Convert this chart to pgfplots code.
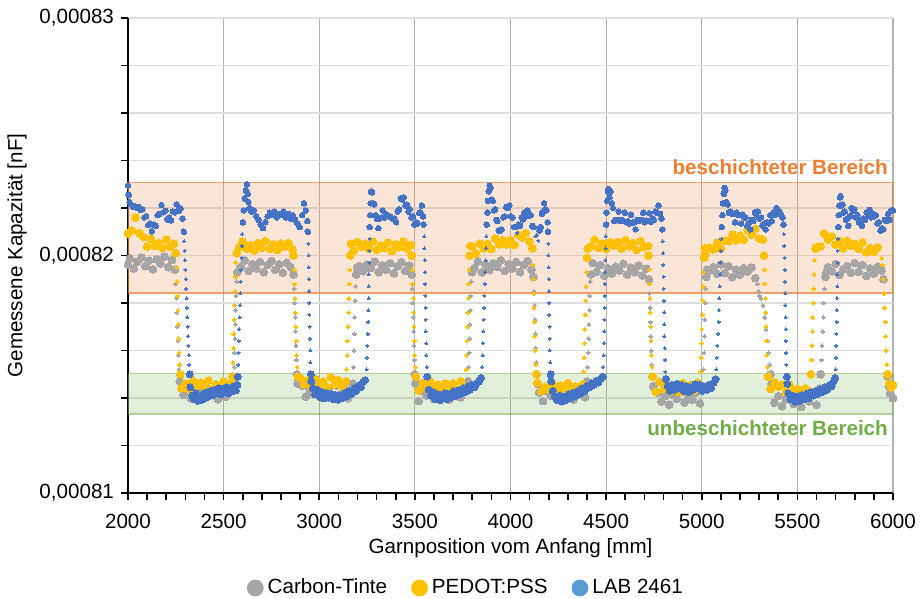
\documentclass[border=0pt]{standalone}
\usepackage{pgfplots}
\pgfplotsset{compat=1.18}
\usepackage{pgfplotstable}
\usepackage{fontspec}
\setmainfont{Liberation Sans}
\newcommand\fsz{\fontsize{10.3}{12.4}\selectfont}

\definecolor{cgray}{RGB}{165,165,165}
\definecolor{cgold}{RGB}{255,192,0}
\definecolor{cblue}{RGB}{68,114,196}
\definecolor{cblueL}{RGB}{91,155,213}
\definecolor{corange}{RGB}{237,125,49}
\definecolor{cgreen}{RGB}{112,173,71}

% values in 1e-6 nF
\pgfplotstableread{
x y
2000 819.62
2010 819.88
2030 819.45
2050 819.75
2070 819.92
2090 819.55
2110 819.78
2130 819.42
2150 819.84
2170 819.66
2190 819.96
2210 819.51
2230 819.81
2245 819.4
2249 818.8
2252 818.2
2255 817.6
2258 817.0
2261 816.4
2264 815.8
2267 815.2
2271 814.7
2290 814.13
2310 814.44
2330 813.98
2350 814.22
2370 814.36
2390 814.08
2410 814.48
2430 814.11
2450 814.40
2470 813.94
2490 814.26
2510 814.04
2530 814.32
2552 814.7
2555 815.3
2557 815.9
2559 816.5
2561 817.1
2563 817.7
2565 818.3
2568 818.9
2572 819.3
2590 819.52
2610 819.80
2630 819.35
2650 819.64
2670 819.45
2690 819.73
2710 819.30
2730 819.60
2750 819.77
2770 819.40
2790 819.63
2810 819.27
2830 819.69
2850 819.51
2866 819.2
2869 818.6
2872 818.0
2874 817.4
2876 816.8
2878 816.2
2880 815.6
2883 815.0
2887 814.6
2910 814.51
2930 814.06
2950 814.36
2970 814.18
2990 814.49
3010 814.03
3030 814.27
3050 814.41
3070 814.13
3090 814.53
3110 814.16
3130 814.45
3150 813.99
3175 814.6
3179 815.3
3182 816.0
3184 816.7
3186 817.4
3188 818.1
3190 818.7
3193 819.2
3197 819.5
3210 819.56
3230 819.34
3250 819.62
3270 819.47
3290 819.75
3310 819.30
3330 819.59
3350 819.40
3370 819.68
3390 819.25
3410 819.55
3430 819.72
3450 819.35
3470 819.58
3484 819.2
3487 818.6
3489 818.0
3491 817.4
3493 816.8
3495 816.2
3497 815.6
3500 815.0
3504 814.6
3520 813.87
3540 814.29
3560 814.11
3580 814.41
3600 813.96
3620 814.26
3640 814.08
3660 814.39
3680 813.93
3700 814.17
3720 814.31
3740 814.03
3760 814.43
3778 814.7
3781 815.3
3784 815.9
3786 816.5
3788 817.1
3790 817.7
3792 818.3
3795 818.9
3799 819.3
3810 819.46
3830 819.75
3850 819.29
3870 819.61
3890 819.39
3910 819.67
3930 819.52
3950 819.80
3970 819.35
3990 819.64
4010 819.45
4030 819.73
4050 819.30
4070 819.60
4090 819.77
4110 819.40
4120 819.1
4123 818.5
4126 817.9
4128 817.3
4130 816.7
4132 816.1
4134 815.5
4137 815.0
4141 814.6
4150 814.23
4170 813.87
4190 814.29
4210 814.11
4230 814.41
4250 813.96
4270 814.26
4290 814.08
4310 814.39
4330 813.93
4350 814.17
4370 814.31
4390 814.03
4400 814.7
4403 815.3
4406 815.9
4408 816.5
4410 817.1
4412 817.7
4414 818.3
4417 818.9
4421 819.2
4430 819.68
4450 819.31
4470 819.60
4490 819.14
4510 819.46
4530 819.24
4550 819.52
4570 819.37
4590 819.65
4610 819.20
4630 819.49
4650 819.30
4670 819.58
4690 819.15
4710 819.45
4724 819.0
4727 818.4
4730 817.8
4732 817.2
4734 816.6
4736 816.0
4739 815.4
4742 814.9
4746 814.5
4770 814.22
4790 813.85
4810 814.08
4830 813.72
4850 814.14
4870 813.96
4890 814.26
4910 813.81
4930 814.11
4950 813.93
4970 814.24
4990 813.78
5006 814.5
5009 815.2
5012 815.9
5014 816.6
5016 817.3
5018 818.0
5020 818.6
5023 819.1
5027 819.4
5040 819.37
5060 819.51
5080 819.23
5100 819.63
5120 819.26
5140 819.55
5160 819.09
5180 819.41
5200 819.19
5220 819.47
5240 819.32
5260 819.50
5280 819.05
5290 818.8
5296 818.5
5302 818.3
5310 818.2
5320 817.9
5330 817.4
5336 816.9
5342 816.4
5348 815.9
5354 815.4
5360 815.0
5366 814.6
5380 813.80
5400 814.08
5420 813.65
5440 813.95
5460 814.12
5480 813.75
5500 813.98
5520 813.62
5540 814.04
5560 813.86
5580 814.16
5600 813.71
5618 814.4
5622 815.0
5626 815.6
5629 816.2
5632 816.8
5635 817.4
5638 818.0
5642 818.6
5647 819.1
5652 819.3
5660 819.51
5680 819.33
5700 819.64
5720 819.18
5740 819.42
5760 819.56
5780 819.28
5800 819.68
5820 819.31
5840 819.60
5860 819.14
5880 819.46
5900 819.24
5920 819.52
5940 819.37
5950 819.0
5953 818.4
5956 817.8
5959 817.2
5962 816.6
5965 816.0
5968 815.4
5972 814.9
5978 814.5
5985 814.2
6000 814.0
}\carbon

\pgfplotstableread{
x y
2000 820.92
2020 821.05
2040 821.60
2060 820.94
2080 820.78
2100 820.38
2120 820.70
2140 820.40
2160 820.53
2180 820.32
2200 820.67
2220 820.37
2240 820.50
2250 820.1
2254 819.5
2257 818.9
2259 818.3
2261 817.7
2263 817.1
2265 816.5
2267 815.9
2270 815.4
2274 815.0
2280 814.41
2300 814.60
2320 814.35
2340 814.72
2360 814.52
2380 814.64
2400 814.43
2420 814.74
2440 814.39
2460 814.57
2480 814.46
2500 814.69
2520 814.34
2540 814.62
2546 814.9
2549 815.5
2551 816.1
2553 816.7
2555 817.3
2557 817.9
2559 818.5
2561 819.1
2564 819.7
2568 820.1
2580 820.35
2600 820.58
2620 820.29
2640 820.44
2660 820.21
2680 820.53
2700 820.33
2720 820.61
2740 820.27
2760 820.46
2780 820.23
2800 820.51
2820 820.38
2840 820.52
2860 820.25
2866 820.0
2869 819.4
2871 818.8
2873 818.2
2875 817.6
2877 817.0
2879 816.4
2881 815.8
2884 815.3
2888 814.9
2900 814.85
2920 814.59
2940 814.73
2960 814.43
2980 814.80
3000 814.55
3020 814.68
3040 814.47
3060 814.87
3080 814.57
3100 814.75
3120 814.51
3140 814.70
3142 815.2
3146 815.8
3149 816.4
3151 817.0
3153 817.6
3155 818.2
3157 818.8
3159 819.4
3162 820.0
3166 820.5
3180 820.20
3200 820.57
3220 820.37
3240 820.49
3260 820.28
3280 820.59
3300 820.24
3320 820.42
3340 820.31
3360 820.54
3380 820.19
3400 820.47
3420 820.35
3440 820.58
3460 820.29
3480 820.44
3484 820.0
3487 819.4
3489 818.8
3491 818.2
3493 817.6
3495 817.0
3497 816.4
3499 815.8
3502 815.3
3506 814.9
3520 814.31
3540 814.63
3560 814.43
3580 814.71
3600 814.37
3620 814.56
3640 814.33
3660 814.61
3680 814.48
3700 814.62
3720 814.35
3740 814.70
3760 814.44
3768 815.2
3771 815.8
3773 816.4
3775 817.0
3777 817.6
3779 818.2
3781 818.8
3783 819.4
3786 820.0
3790 820.4
3800 820.38
3820 820.08
3840 820.50
3860 820.30
3880 820.48
3900 820.27
3920 820.72
3940 820.47
3960 820.65
3980 820.46
4000 820.65
4020 820.45
4040 820.87
4060 820.77
4080 820.94
4100 820.58
4114 820.3
4117 819.6
4119 819.0
4121 818.4
4123 817.8
4125 817.2
4127 816.6
4129 816.0
4132 815.4
4136 815.0
4140 814.64
4160 814.29
4180 814.47
4200 814.36
4220 814.59
4240 814.24
4260 814.52
4280 814.40
4300 814.63
4320 814.34
4340 814.49
4360 814.26
4380 814.58
4382 815.1
4385 815.7
4387 816.3
4389 816.9
4391 817.5
4393 818.1
4395 818.7
4397 819.3
4400 819.9
4404 820.3
4420 820.38
4440 820.66
4460 820.32
4480 820.51
4500 820.28
4520 820.56
4540 820.43
4560 820.57
4580 820.30
4600 820.65
4620 820.39
4640 820.53
4660 820.23
4680 820.60
4700 820.35
4720 820.40
4722 820.0
4725 819.4
4727 818.8
4729 818.2
4731 817.6
4733 817.0
4735 816.4
4737 815.8
4740 815.3
4744 814.9
4760 814.27
4780 814.67
4800 814.37
4820 814.55
4840 814.31
4860 814.50
4880 814.25
4900 814.62
4920 814.42
4940 814.54
4960 814.33
4980 814.64
4994 815.1
4997 815.7
4999 816.3
5001 816.9
5003 817.5
5005 818.1
5007 818.7
5009 819.3
5012 819.9
5016 820.3
5020 820.04
5040 820.32
5060 820.26
5080 820.54
5100 820.29
5120 820.62
5140 820.60
5160 820.88
5180 820.64
5200 820.84
5220 820.66
5240 821.08
5260 820.88
5280 821.11
5300 820.72
5320 820.66
5326 820.0
5328 819.4
5330 818.8
5332 818.2
5334 817.6
5336 817.0
5338 816.4
5340 815.8
5343 815.3
5347 814.9
5360 814.38
5380 814.66
5400 814.48
5420 814.57
5440 814.25
5460 814.55
5480 814.29
5500 814.38
5520 814.13
5540 814.40
5560 814.30
5570 815.0
5574 815.6
5577 816.2
5579 816.8
5581 817.4
5583 818.0
5585 818.6
5587 819.2
5590 819.8
5595 820.3
5600 820.33
5620 820.37
5640 820.92
5660 820.67
5680 820.80
5700 820.46
5720 820.60
5740 820.30
5760 820.62
5780 820.42
5800 820.49
5820 820.28
5840 820.54
5860 820.14
5880 820.32
5900 820.16
5920 820.34
5940 819.89
5946 819.6
5950 819.0
5953 818.4
5956 817.8
5959 817.2
5962 816.6
5965 816.0
5968 815.4
5972 815.0
5980 814.6
5990 814.45
6000 814.55
}\pedot

\pgfplotstableread{
x y
2000 822.95
2004 822.55
2008 822.25
2015 822.15
2025 822.05
2035 822.08
2045 822.02
2055 822.05
2065 821.92
2075 821.95
2085 821.60
2095 821.65
2105 821.28
2115 821.35
2125 821.02
2135 821.30
2145 821.25
2155 821.70
2165 821.75
2175 822.12
2185 821.82
2195 821.88
2205 821.52
2215 821.60
2225 821.48
2235 821.85
2245 821.82
2255 822.15
2265 821.88
2275 821.98
2285 821.55
2292 821.0
2294 820.6
2296 820.2
2298 819.8
2300 819.4
2302 819.0
2304 818.6
2306 818.2
2308 817.8
2310 817.4
2312 817.0
2314 816.6
2316 816.2
2318 815.8
2320 815.4
2323 815.0
2326 814.45
2335 814.10
2345 813.95
2355 814.20
2365 813.88
2375 814.05
2385 813.92
2395 814.18
2405 814.00
2415 814.25
2425 814.08
2435 814.30
2445 814.12
2455 814.35
2465 814.22
2475 814.42
2485 814.15
2495 814.38
2505 814.25
2515 814.45
2525 814.20
2535 814.40
2545 814.28
2555 814.50
2565 814.32
2572 814.55
2574 814.9
2576 815.4
2578 815.9
2580 816.4
2582 816.9
2584 817.4
2586 817.9
2588 818.4
2590 818.9
2592 819.4
2594 819.9
2596 820.4
2598 820.9
2601 821.4
2605 821.9
2610 822.4
2616 822.75
2622 823.0
2626 822.6
2630 822.25
2634 822.00
2646 821.85
2658 821.90
2670 821.65
2682 821.50
2694 821.30
2706 821.15
2718 821.40
2730 821.65
2742 821.80
2754 821.70
2766 821.85
2778 821.60
2790 821.75
2802 821.70
2814 821.85
2826 821.60
2838 821.75
2850 821.55
2862 821.70
2874 821.50
2886 821.35
2898 821.20
2910 821.70
2920 822.20
2930 821.90
2938 821.45
2940 821.0
2942 820.5
2944 820.0
2945 819.5
2946 819.0
2947 818.5
2948 818.0
2949 817.5
2950 817.0
2951 816.5
2952 816.0
2954 815.5
2956 815.0
2958 814.7
2966 814.40
2978 814.15
2990 814.35
3002 814.05
3014 814.25
3026 813.98
3038 814.20
3050 814.02
3062 814.18
3074 813.95
3086 814.12
3098 813.92
3110 814.10
3122 814.00
3134 814.22
3146 814.08
3158 814.30
3170 814.18
3182 814.40
3194 814.30
3206 814.52
3218 814.45
3230 814.68
3240 814.75
3248 815.2
3250 815.7
3252 816.2
3254 816.7
3256 817.2
3257 817.7
3258 818.2
3259 818.7
3260 819.2
3261 819.7
3262 820.2
3263 820.7
3264 821.2
3266 821.7
3268 822.2
3271 822.7
3276 822.65
3282 822.20
3288 822.15
3295 821.70
3302 821.55
3309 821.15
3316 821.55
3324 821.60
3332 821.90
3342 821.60
3352 821.72
3362 821.65
3372 821.65
3382 821.55
3392 821.55
3402 821.40
3410 821.85
3418 821.95
3426 822.40
3434 822.35
3442 822.45
3450 822.10
3458 822.15
3466 821.85
3474 821.95
3482 821.60
3490 821.65
3498 821.30
3506 821.40
3514 821.35
3522 821.80
3530 821.80
3537 822.10
3543 821.65
3546 821.3
3548 820.8
3550 820.3
3552 819.8
3553 819.3
3554 818.8
3555 818.3
3556 817.8
3557 817.3
3558 816.8
3559 816.3
3560 815.8
3562 815.3
3565 814.9
3572 814.35
3584 814.10
3596 814.25
3608 813.95
3620 814.15
3632 813.90
3644 814.10
3656 814.20
3668 813.95
3680 814.15
3692 814.05
3704 814.28
3716 814.10
3728 814.32
3740 814.18
3752 814.40
3764 814.25
3776 814.48
3788 814.35
3800 814.55
3812 814.45
3824 814.62
3836 814.70
3846 814.85
3852 815.3
3854 815.8
3856 816.3
3858 816.8
3860 817.3
3862 817.8
3864 818.3
3866 818.8
3868 819.3
3870 819.8
3872 820.3
3874 820.8
3876 821.3
3879 821.8
3882 822.3
3886 822.7
3891 822.95
3896 822.85
3902 822.35
3908 822.30
3914 821.90
3920 821.95
3926 821.50
3932 821.45
3938 821.05
3946 821.05
3954 821.10
3962 821.60
3970 821.65
3978 822.05
3986 822.00
3994 822.10
4002 821.65
4010 821.60
4018 821.20
4026 821.20
4034 820.95
4042 821.30
4050 821.25
4058 821.60
4066 821.52
4074 821.80
4082 821.65
4090 821.90
4098 821.68
4106 821.70
4114 821.25
4122 821.20
4130 820.80
4138 820.85
4146 820.62
4152 821.05
4158 821.20
4164 821.75
4170 821.85
4176 822.20
4182 821.95
4188 821.90
4194 821.40
4196 821.0
4197 820.5
4198 820.0
4199 819.5
4200 819.0
4201 818.5
4202 818.0
4203 817.5
4204 817.0
4205 816.5
4206 816.0
4208 815.5
4210 815.0
4213 814.7
4220 814.30
4232 814.05
4244 813.90
4256 814.10
4268 813.85
4280 814.05
4292 813.92
4304 814.15
4316 814.00
4328 814.22
4340 814.08
4352 814.30
4364 814.18
4376 814.42
4388 814.30
4400 814.52
4412 814.45
4424 814.62
4436 814.55
4448 814.72
4460 814.65
4472 814.82
4482 814.90
4485 815.3
4487 815.8
4489 816.3
4490 816.8
4491 817.3
4492 817.8
4493 818.3
4494 818.8
4495 819.3
4496 819.8
4497 820.3
4498 820.8
4500 821.3
4502 821.8
4505 822.3
4509 822.7
4512 822.80
4518 822.45
4524 822.70
4530 822.20
4536 822.00
4542 821.45
4550 821.50
4558 821.50
4566 821.85
4574 821.45
4582 821.50
4590 821.45
4598 821.80
4606 821.40
4614 821.45
4622 821.35
4630 821.72
4638 821.40
4646 821.40
4654 821.10
4662 821.50
4670 821.45
4678 821.50
4686 821.50
4694 821.80
4702 821.40
4710 821.48
4718 821.45
4726 821.78
4734 821.42
4742 821.55
4750 821.50
4758 821.85
4766 821.80
4774 822.10
4782 821.75
4790 821.55
4794 821.1
4796 820.6
4798 820.1
4799 819.6
4800 819.1
4801 818.6
4802 818.1
4803 817.6
4804 817.1
4805 816.6
4806 816.1
4808 815.6
4810 815.1
4813 814.8
4822 814.50
4834 814.30
4846 814.55
4858 814.35
4870 814.60
4882 814.40
4894 814.55
4906 814.30
4918 814.50
4930 814.25
4942 814.45
4954 814.35
4966 814.58
4978 814.40
4990 814.55
5002 814.30
5014 814.48
5026 814.35
5038 814.55
5050 814.42
5062 814.65
5072 814.80
5076 815.2
5079 815.7
5082 816.2
5085 816.7
5088 817.2
5090 817.7
5092 818.2
5094 818.7
5096 819.2
5098 819.7
5100 820.2
5102 820.7
5105 821.2
5108 821.7
5111 822.2
5115 822.6
5120 822.85
5124 822.75
5130 822.25
5136 822.15
5142 821.80
5150 821.85
5158 821.75
5166 821.75
5174 821.40
5182 821.80
5190 821.70
5198 821.70
5206 821.35
5214 821.72
5222 821.60
5230 821.60
5238 821.25
5246 821.35
5254 821.10
5262 821.50
5270 821.45
5278 821.80
5286 821.70
5294 821.85
5302 821.55
5310 821.60
5318 821.25
5326 821.35
5334 821.10
5342 821.40
5350 821.35
5358 821.70
5366 821.45
5374 821.80
5382 821.70
5390 822.00
5398 821.75
5406 821.85
5414 821.75
5422 821.60
5428 821.30
5430 820.9
5432 820.4
5433 819.9
5434 819.4
5435 818.9
5436 818.4
5437 817.9
5438 817.4
5439 816.9
5440 816.4
5441 815.9
5443 815.4
5445 814.9
5448 814.6
5452 814.20
5464 813.95
5476 814.10
5488 813.85
5500 814.05
5512 813.88
5524 814.12
5536 813.95
5548 814.18
5560 814.00
5572 814.25
5584 814.10
5596 814.30
5608 814.18
5620 814.38
5632 814.25
5644 814.45
5656 814.35
5668 814.55
5680 814.50
5690 814.70
5698 814.85
5700 815.2
5702 815.7
5703 816.2
5704 816.7
5705 817.2
5706 817.7
5707 818.2
5708 818.7
5709 819.2
5710 819.7
5711 820.2
5712 820.7
5714 821.2
5716 821.7
5719 822.1
5723 822.45
5726 822.50
5730 822.10
5736 822.15
5742 821.80
5748 821.85
5754 821.50
5760 821.55
5766 821.25
5772 821.65
5778 821.65
5784 822.00
5790 821.88
5798 821.95
5806 821.60
5814 821.70
5822 821.40
5830 821.50
5838 821.25
5846 821.55
5854 821.50
5862 821.82
5870 821.70
5878 821.92
5886 821.60
5894 821.75
5902 821.65
5910 821.70
5918 821.35
5926 821.40
5934 821.05
5942 821.15
5950 821.10
5958 821.50
5966 821.45
5974 821.75
5982 821.50
5990 821.90
6000 821.90
}\lab

\begin{document}
\begin{tikzpicture}
\begin{axis}[
  width=382.5pt, height=237.5pt, scale only axis,
  xmin=2000, xmax=6000, ymin=810, ymax=830,
  axis lines=left,
  axis line style={-, line width=0.9pt, black},
  xtick={2000,2500,...,6000}, minor x tick num=4,
  ytick={810,820,830},
  yticklabels={{0,00081},{0,00082},{0,00083}},
  minor y tick num=4,
  tick align=outside,
  major tick length=3.5pt, minor tick length=3.5pt,
  every tick/.style={black, line width=0.8pt},
  xmajorgrids, ymajorgrids, yminorgrids,
  x grid style={black!30, line width=0.6pt},
  y grid style={black!13, line width=0.6pt},
  /pgf/number format/assume math mode=true,
  /pgf/number format/1000 sep={},
  ticklabel style={font=\fsz},
  xticklabel style={yshift=-3.5pt},
  xlabel={Garnposition vom Anfang [mm]},
  ylabel={Gemessene Kapazität [nF]},
  label style={font=\fsz},
  xlabel style={at={(axis description cs:0.5,-0.116)}, anchor=center},
  ylabel style={at={(axis description cs:-0.145,0.5)}, anchor=center},
  legend style={at={(axis description cs:0.443,-0.2)}, anchor=center,
    draw=none, fill=none, font=\fsz, legend columns=3,
    /tikz/every even column/.append style={column sep=10pt}},
  legend image code/.code={\path[draw=none, fill=#1] (0pt,0pt) circle[radius=4.2pt];},
  dots/.style={only marks, mark=*, color=#1, mark options={draw=#1, fill=#1, line width=0pt}, forget plot},
]
% small dots: every point (the steps are drawn with these)
\addplot[dots=cgray, mark size=0.95pt] table {\carbon};
% the plateaus, where the measured points lie densely, with larger dots
\addplot[dots=cgray, mark size=1.95pt, restrict y to domain=819:822] table {\carbon};
\addplot[dots=cgray, mark size=1.95pt, restrict y to domain=810:815] table {\carbon};

\addplot[dots=cgold, mark size=0.95pt] table {\pedot};
\addplot[dots=cgold, mark size=1.95pt, restrict y to domain=819.9:822] table {\pedot};
\addplot[dots=cgold, mark size=1.95pt, restrict y to domain=810:815] table {\pedot};

\addplot[dots=cblue, mark size=0.75pt] table {\lab};
\addplot[dots=cblue, mark size=1.4pt, restrict y to domain=821:824] table {\lab};
\addplot[dots=cblue, mark size=1.75pt, restrict y to domain=810:815] table {\lab};

% bands
\addplot[sharp plot, no marks, draw=corange, draw opacity=0.7, line width=0.6pt,
  fill=corange, fill opacity=0.2, forget plot]
  coordinates {(2000,818.42) (6000,818.42) (6000,823.07) (2000,823.07) (2000,818.42)};
\addplot[sharp plot, no marks, draw=cgreen, draw opacity=0.5, line width=0.6pt,
  fill=cgreen, fill opacity=0.2, forget plot]
  coordinates {(2000,813.33) (6000,813.33) (6000,815.03) (2000,815.03) (2000,813.33)};

\node[anchor=east, inner sep=0pt, text=corange, font=\fsz\bfseries] at (axis cs:5975,823.7) {beschichteter Bereich};
\node[anchor=east, inner sep=0pt, text=cgreen, font=\fsz\bfseries] at (axis cs:5975,812.72) {unbeschichteter Bereich};

\addlegendimage{cgray}
\addlegendentry{Carbon-Tinte}
\addlegendimage{cgold}
\addlegendentry{PEDOT:PSS}
\addlegendimage{cblueL}
\addlegendentry{LAB 2461}
\end{axis}
\pgfresetboundingbox
\path ([shift={(-64pt,-53pt)}]current axis.south west) rectangle ([shift={(13.5pt,9pt)}]current axis.north east);
\end{tikzpicture}
\end{document}
